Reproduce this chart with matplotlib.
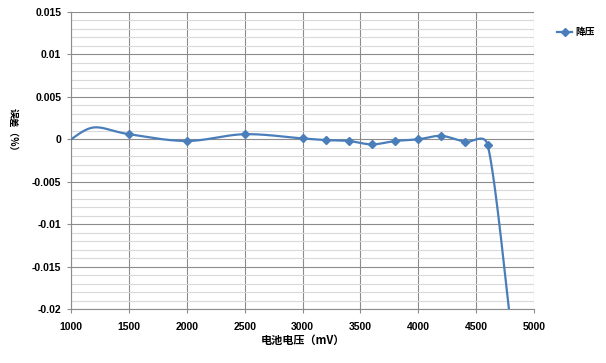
import matplotlib
matplotlib.use("Agg")
import matplotlib.pyplot as plt
import numpy as np
from matplotlib.ticker import MultipleLocator

plt.rcParams["font.family"] = ["Liberation Sans", "Noto Sans CJK SC", "DejaVu Sans"]

# data (battery voltage in mV vs error)
voltage = [1000, 1200, 1500, 2000, 2500, 3000, 3200, 3400, 3600, 3800, 4000, 4200, 4400, 4600, 4800]
error = [0.0, 0.0014, 0.0006, -0.0002, 0.0006, 0.0001, -0.0001, -0.0002, -0.0006,
         -0.0002, 0.0, 0.0004, -0.0003, -0.0007, -0.022]
marked = list(range(2, len(voltage)))  # points that carry a marker
series_name = "降压"
x_label = "电池电压（mV）"
y_label = "误差（%）"
y_tick_labels = ["-0.02", "-0.015", "-0.01", "-0.005", "0", "0.005", "0.01", "0.015"]

x_min, x_max = 1000, 5000
y_min, y_max = -0.02, 0.015

line_color = "#4A7EBB"
grid_major = "#8C8C8C"
grid_minor = "#D9D9D9"


def _limit(v, chord, frac=0.6):
    n = np.hypot(*v)
    cap = frac * chord
    return v if n <= cap or n == 0 else v * cap / n


def smooth_curve(xs, ys, sx, sy, n=40):
    # excel-like bezier smoothing, done in pixel units
    p = np.column_stack([np.asarray(xs, float) * sx, np.asarray(ys, float) * sy])
    pts = []
    for i in range(len(p) - 1):
        p0 = p[i - 1] if i > 0 else p[i]
        p1, p2 = p[i], p[i + 1]
        p3 = p[i + 2] if i + 2 < len(p) else p[i + 1]
        chord = np.hypot(*(p2 - p1))
        c1 = p1 + _limit((p2 - p0) / 6, chord)
        c2 = p2 - _limit((p3 - p1) / 6, chord)
        t = np.linspace(0, 1, n)[:, None]
        seg = (1 - t) ** 3 * p1 + 3 * (1 - t) ** 2 * t * c1 + 3 * (1 - t) * t ** 2 * c2 + t ** 3 * p2
        pts.append(seg if i == 0 else seg[1:])
    pts = np.vstack(pts)
    return pts[:, 0] / sx, pts[:, 1] / sy


fig = plt.figure(figsize=(6.06, 3.63), dpi=100)
ax = fig.add_axes([71 / 606, 54 / 363, 463 / 606, 297 / 363])

sx = 463 / (x_max - x_min)
sy = 297 / (y_max - y_min)
cx, cy = smooth_curve(voltage, error, sx, sy)
ax.plot(cx, cy, color=line_color, linewidth=1.6, zorder=3)
ax.plot([voltage[i] for i in marked], [error[i] for i in marked], linestyle="none",
        marker="D", markersize=4.5, color=line_color, zorder=4)

ax.set_xlim(x_min, x_max)
ax.set_ylim(y_min, y_max)
ax.xaxis.set_major_locator(MultipleLocator(500))
ax.yaxis.set_minor_locator(MultipleLocator(0.001))
ax.set_yticks(np.linspace(y_min, y_max, len(y_tick_labels)))
ax.set_yticklabels(y_tick_labels)

ax.grid(which="major", color=grid_major, linewidth=0.8)
ax.grid(which="minor", axis="y", color=grid_minor, linewidth=0.8)
ax.set_axisbelow(True)
for side in ["top", "right"]:
    ax.spines[side].set_visible(False)
for side in ["left", "bottom"]:
    ax.spines[side].set_color(grid_major)
    ax.spines[side].set_linewidth(0.8)

ax.tick_params(axis="both", which="major", length=3, color=grid_major, labelsize=7.5, pad=4)
ax.tick_params(axis="y", which="minor", length=0)
ax.tick_params(axis="x", pad=6)
for lab in ax.get_xticklabels() + ax.get_yticklabels():
    lab.set_fontweight("bold")

ax.set_xlabel(x_label, fontsize=8, fontweight="bold", labelpad=2,
              family=["Noto Sans CJK SC", "DejaVu Sans"])
fig.text(13 / 606, 1 - 132 / 363, y_label, rotation=-90, ha="center", va="center",
         fontsize=7, fontweight="bold", family=["Noto Sans CJK SC", "DejaVu Sans"])

ax.plot([], [], color=line_color, linewidth=1.6, marker="D", markersize=4.5, label=series_name)
ax.legend(loc="center left", bbox_to_anchor=(548 / 606, 1 - 32 / 363),
          bbox_transform=fig.transFigure, frameon=False, handlelength=1.6,
          handletextpad=0.3, prop={"family": ["Noto Sans CJK SC"], "size": 7, "weight": "bold"})

fig.savefig("out.png", dpi=100)
